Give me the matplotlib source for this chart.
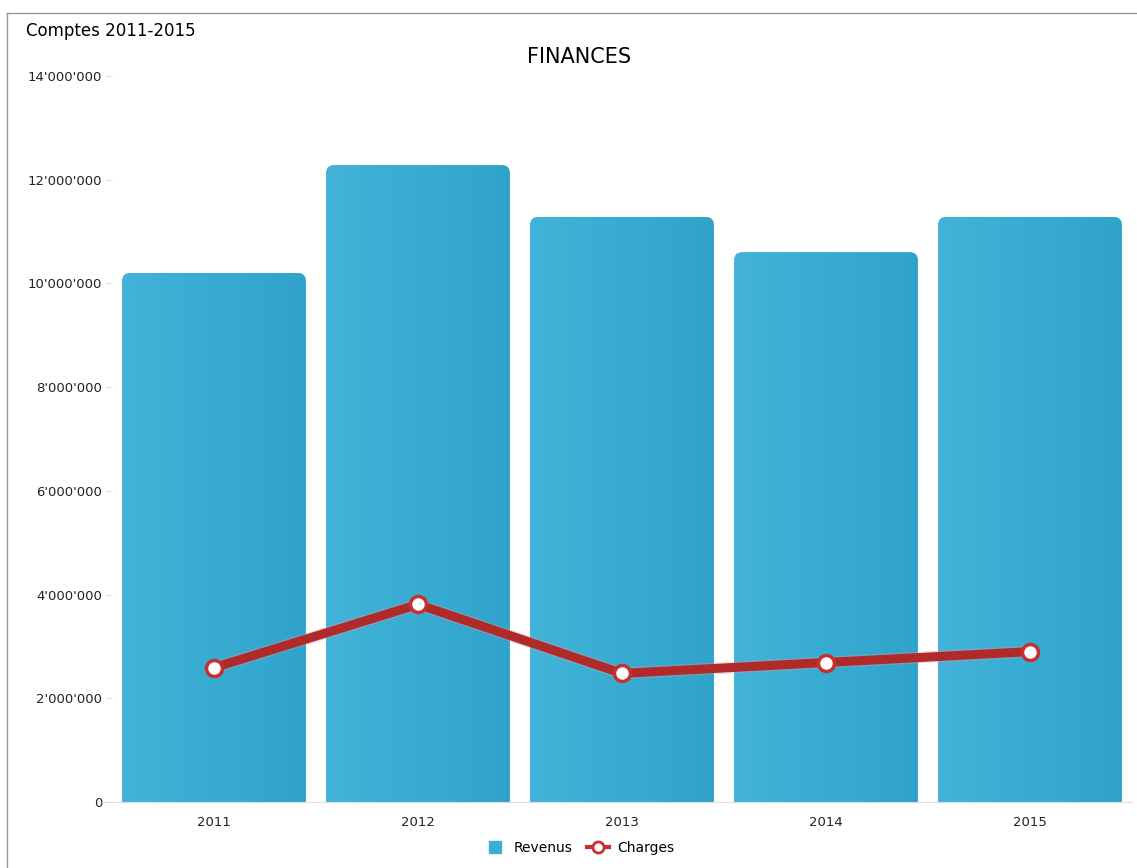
import matplotlib.pyplot as plt
import numpy as np
from matplotlib.patches import FancyBboxPatch
from matplotlib.lines import Line2D
from matplotlib.ticker import FuncFormatter
from matplotlib.colors import LinearSegmentedColormap

years = ['2011', '2012', '2013', '2014', '2015']
revenus = [10200000, 12280000, 11280000, 10600000, 11280000]
charges = [2590000, 3810000, 2480000, 2690000, 2900000]

fig = plt.figure(figsize=(11.37, 8.68), dpi=100)
ax = fig.add_axes([112 / 1137, (868 - 802) / 868, 1020 / 1137, (802 - 76) / 868])

x = np.arange(len(years))
width = 0.9
grad = np.linspace(0, 1, 64).reshape(1, -1)
cmap = LinearSegmentedColormap.from_list('bar', ['#44b3d9', '#3aaed4', '#35a9cf', '#2fa3c9'])

for xi, v in zip(x, revenus):
    box = FancyBboxPatch((xi - width / 2, -600000), width, v + 600000,
                         boxstyle='round,pad=0,rounding_size=0.04',
                         mutation_aspect=3.9e6, facecolor='#3aaed4',
                         edgecolor='none', zorder=2)
    ax.add_patch(box)
    im = ax.imshow(grad, extent=(xi - width / 2, xi + width / 2, -600000, v),
                   aspect='auto', cmap=cmap, zorder=2.1)
    im.set_clip_path(box)

ax.plot(x, charges, color='#e89a9a', lw=8.5, alpha=0.35, zorder=3)
ax.plot(x, charges, color='#b02a2a', lw=6.5, zorder=4)
ax.plot(x, charges, ls='none', marker='o', ms=11.5, mfc='white', mec='#c8302e',
        mew=2.5, zorder=5)

ax.set_xlim(-0.5, len(years) - 0.5)
ax.set_ylim(0, 14000000)
ax.set_yticks(np.arange(0, 14000001, 2000000))
ax.yaxis.set_major_formatter(FuncFormatter(lambda v, p: f"{int(v):,}".replace(',', "'")))
ax.set_xticks(x)
ax.set_xticklabels(years)
ax.tick_params(axis='y', length=4, color='#dddddd', labelsize=9.5, pad=3, labelcolor='#222222')
ax.tick_params(axis='x', length=0, labelsize=9.5, pad=10, labelcolor='#222222')
for s in ['top', 'right', 'left']:
    ax.spines[s].set_visible(False)
ax.spines['bottom'].set_color('#dddddd')
ax.spines['bottom'].set_bounds(-0.55, 4.5)

fig.text(579 / 1137, 1 - 57 / 868, 'FINANCES', ha='center', va='center', fontsize=15)
fig.text(26 / 1137, 1 - 31 / 868, 'Comptes 2011-2015', ha='left', va='center', fontsize=12)

# outer frame (top and left)
fig.add_artist(Line2D([7 / 1137, 7 / 1137], [0, 1 - 13 / 868], color='#999999', lw=1))
fig.add_artist(Line2D([7 / 1137, 1], [1 - 13 / 868, 1 - 13 / 868], color='#999999', lw=1))

handles = [
    Line2D([], [], ls='none', marker='s', ms=8, color='#3aaed4'),
    Line2D([], [], color='#c8302e', lw=3, marker='o', ms=8, mfc='white', mec='#c8302e', mew=2),
]
fig.legend(handles, ['Revenus', 'Charges'], loc='center', bbox_to_anchor=(579 / 1137, 1 - 848 / 868),
           ncol=2, frameon=False, fontsize=10, handlelength=1.6, columnspacing=1.0, handletextpad=0.6)

fig.savefig('out.png', dpi=100)
